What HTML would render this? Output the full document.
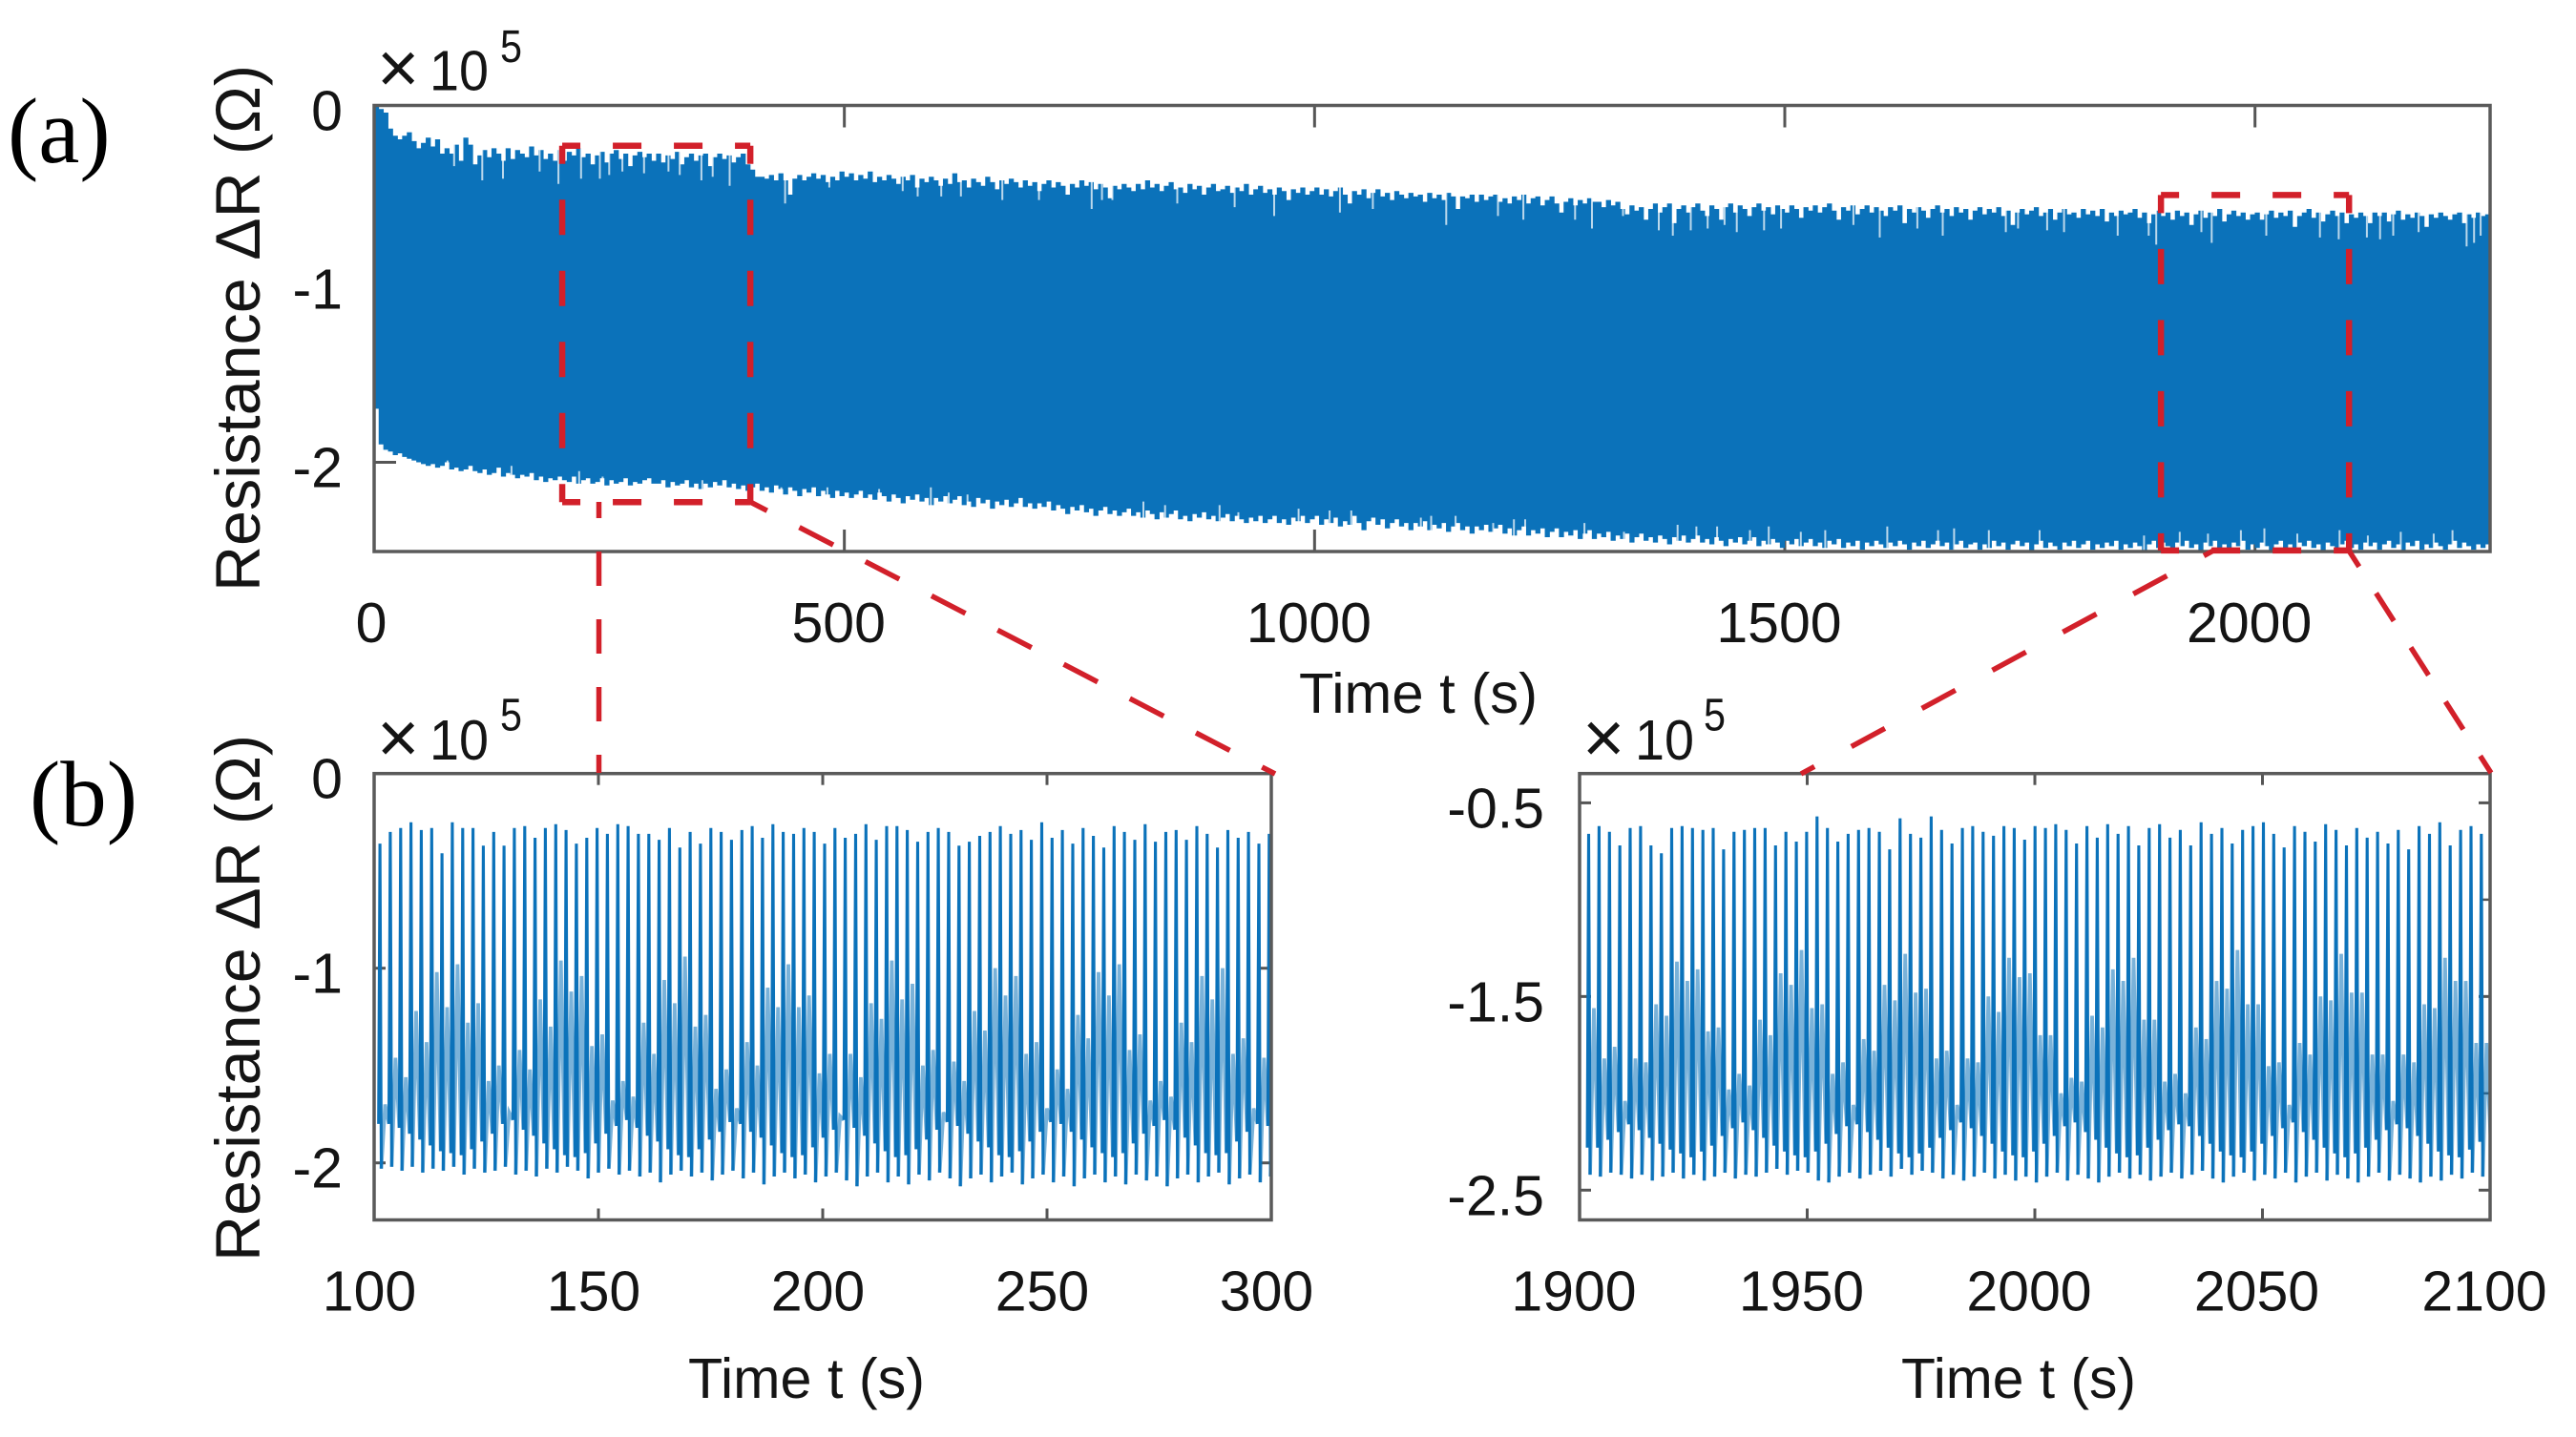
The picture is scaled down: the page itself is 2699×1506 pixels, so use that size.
<!DOCTYPE html>
<html lang="en">
<head>
<meta charset="utf-8">
<title>Resistance over time</title>
<style>
html,body{margin:0;padding:0;background:#fff;}
svg{display:block;}
text{font-family:"Liberation Sans","DejaVu Sans",sans-serif;fill:#141414;}
.serif{font-family:"Liberation Serif","DejaVu Serif",serif;fill:#000;}
.red{stroke:#d2202a;fill:none;}
</style>
</head>
<body>
<svg id="figure" xmlns="http://www.w3.org/2000/svg" width="2699" height="1506" viewBox="0 0 2699 1506">
  <rect x="0" y="0" width="2699" height="1506" fill="#fff"/>
  <defs>
    <clipPath id="clip-a"><rect x="392" y="110" width="2218" height="468"/></clipPath>
    <clipPath id="clip-b1"><rect x="392" y="811" width="941" height="468"/></clipPath>
    <clipPath id="clip-b2"><rect x="1655" y="811" width="955" height="468"/></clipPath>
  </defs>
  <g id="layer-ticks"></g>
  <g id="layer-series"></g>
  <g id="layer-frames"></g>
  <g id="layer-labels" font-size="59"></g>

  <text class="serif" x="8" y="170" font-size="97">(a)</text>
  <text class="serif" x="31" y="865" font-size="97">(b)</text>

  <text transform="translate(272,620) rotate(-90)" font-size="66" textLength="552" lengthAdjust="spacingAndGlyphs">Resistance ΔR (Ω)</text>
  <text transform="translate(272,1322) rotate(-90)" font-size="66" textLength="552" lengthAdjust="spacingAndGlyphs">Resistance ΔR (Ω)</text>

  <text x="1361" y="747" font-size="59" textLength="250" lengthAdjust="spacingAndGlyphs">Time t (s)</text>
  <text x="721" y="1465" font-size="59" textLength="248" lengthAdjust="spacingAndGlyphs">Time t (s)</text>
  <text x="1992" y="1465" font-size="59" textLength="246" lengthAdjust="spacingAndGlyphs">Time t (s)</text>

  <g>
    <text x="395" y="97" font-size="76">×</text>
    <text x="450" y="94.5" font-size="59" textLength="62" lengthAdjust="spacingAndGlyphs">10</text>
    <text x="524" y="65" font-size="48" textLength="23" lengthAdjust="spacingAndGlyphs">5</text>
  </g>
  <g>
    <text x="395" y="799" font-size="76">×</text>
    <text x="450" y="796" font-size="59" textLength="62" lengthAdjust="spacingAndGlyphs">10</text>
    <text x="524" y="765.5" font-size="48" textLength="23" lengthAdjust="spacingAndGlyphs">5</text>
  </g>
  <g>
    <text x="1658" y="799" font-size="76">×</text>
    <text x="1713" y="796" font-size="59" textLength="62" lengthAdjust="spacingAndGlyphs">10</text>
    <text x="1785" y="765.5" font-size="48" textLength="23" lengthAdjust="spacingAndGlyphs">5</text>
  </g>

  <g id="layer-zoom"></g>
  <g>
    <line class="red" x1="627.5" y1="810" x2="627.5" y2="526" stroke-width="5.5" stroke-dasharray="36 35" stroke-dashoffset="17"/>
    <line class="red" x1="786" y1="526" x2="1336" y2="811" stroke-width="5.5" stroke-dasharray="40 38" stroke-dashoffset="20"/>
    <line class="red" x1="1887" y1="811" x2="2321" y2="576" stroke-width="5.5" stroke-dasharray="40 44" stroke-dashoffset="24"/>
    <line class="red" x1="2461" y1="577" x2="2610" y2="810" stroke-width="5.5" stroke-dasharray="34.5 33" stroke-dashoffset="14.5"/>
  </g>
</svg>
<script>
/* Panel (a): envelope of the signal, one value per 5 s, units of 1e5 ohm */
const stepA = 5;
const upperA = [
0,-.02,-.04,-.13,-.17,-.19,-.17,-.15,-.2,-.24,-.21,-.18,-.23,-.19,-.27,-.24,-.27,-.22,-.31,-.18,
-.22,-.33,-.28,-.25,-.29,-.24,-.27,-.31,-.24,-.3,-.25,-.27,-.29,-.23,-.28,-.25,-.3,-.27,-.31,-.25,
-.31,-.26,-.28,-.24,-.29,-.27,-.33,-.28,-.26,-.32,-.27,-.25,-.3,-.27,-.34,-.28,-.26,-.29,-.27,-.31,
-.27,-.32,-.28,-.3,-.26,-.33,-.29,-.27,-.31,-.28,-.27,-.34,-.29,-.27,-.3,-.28,-.32,-.29,-.27,-.33,
-.36,-.4,-.4,-.41,-.39,-.42,-.38,-.42,-.5,-.41,-.39,-.42,-.4,-.38,-.41,-.39,-.43,-.4,-.42,-.37,
-.4,-.38,-.42,-.39,-.41,-.37,-.43,-.4,-.42,-.39,-.41,-.44,-.4,-.42,-.39,-.46,-.41,-.43,-.4,-.42,
-.45,-.41,-.44,-.38,-.43,-.42,-.46,-.41,-.43,-.45,-.4,-.43,-.47,-.42,-.44,-.41,-.43,-.46,-.42,-.45,
-.43,-.48,-.44,-.42,-.46,-.43,-.45,-.5,-.44,-.46,-.42,-.45,-.43,-.47,-.44,-.46,-.52,-.45,-.47,-.44,
-.46,-.48,-.44,-.47,-.42,-.46,-.44,-.48,-.45,-.43,-.47,-.46,-.49,-.44,-.47,-.45,-.5,-.46,-.44,-.48,
-.47,-.45,-.49,-.46,-.48,-.44,-.5,-.47,-.45,-.49,-.47,-.5,-.46,-.48,-.53,-.47,-.49,-.46,-.5,-.48,
-.46,-.5,-.47,-.51,-.48,-.46,-.5,-.55,-.48,-.5,-.47,-.52,-.49,-.47,-.51,-.49,-.53,-.48,-.5,-.52,
-.49,-.51,-.5,-.54,-.49,-.52,-.5,-.53,-.49,-.51,-.58,-.51,-.52,-.5,-.54,-.5,-.53,-.51,-.5,-.54,
-.52,-.55,-.51,-.53,-.5,-.55,-.52,-.51,-.56,-.53,-.51,-.55,-.6,-.54,-.52,-.56,-.53,-.55,-.52,-.54,
-.54,-.57,-.53,-.56,-.54,-.58,-.61,-.56,-.59,-.57,-.64,-.58,-.55,-.6,-.57,-.55,-.66,-.58,-.56,-.6,
-.57,-.55,-.59,-.62,-.56,-.58,-.64,-.57,-.55,-.6,-.56,-.58,-.62,-.57,-.55,-.59,-.57,-.61,-.56,-.58,
-.6,-.56,-.58,-.63,-.57,-.59,-.56,-.6,-.57,-.55,-.59,-.64,-.57,-.59,-.56,-.61,-.58,-.56,-.6,-.57,
-.59,-.62,-.57,-.59,-.56,-.66,-.58,-.6,-.57,-.59,-.63,-.58,-.56,-.6,-.58,-.62,-.57,-.6,-.58,-.64,
-.59,-.57,-.61,-.58,-.6,-.57,-.62,-.59,-.67,-.6,-.58,-.61,-.59,-.57,-.62,-.6,-.58,-.64,-.6,-.58,
-.61,-.6,-.63,-.58,-.61,-.59,-.62,-.58,-.65,-.6,-.62,-.59,-.61,-.6,-.58,-.63,-.6,-.66,-.61,-.59,
-.62,-.6,-.64,-.59,-.62,-.6,-.67,-.61,-.59,-.63,-.6,-.62,-.58,-.65,-.61,-.59,-.62,-.6,-.64,-.61,
-.6,-.64,-.61,-.59,-.63,-.6,-.62,-.59,-.68,-.62,-.6,-.58,-.63,-.6,-.65,-.61,-.59,-.62,-.6,-.66,
-.61,-.63,-.6,-.62,-.66,-.6,-.62,-.6,-.65,-.61,-.59,-.64,-.61,-.63,-.6,-.62,-.68,-.61,-.63,-.6,
-.62,-.64,-.61,-.6,-.66,-.61,-.63,-.6,-.62,-.61,-.63,-.6
];
const lowerA = [
-1.7,-1.9,-1.93,-1.94,-1.96,-1.95,-1.97,-1.98,-1.99,-2,-2.01,-2.02,-2.01,-2.03,-2.02,-2,-2.04,-2.03,-2.05,-2.04,
-2.02,-2.05,-2.06,-2.04,-2.07,-2.06,-2.03,-2.08,-2.06,-2.07,-2.09,-2.07,-2.08,-2.06,-2.1,-2.08,-2.11,-2.09,-2.1,-2.08,
-2.1,-2.11,-2.08,-2.12,-2.1,-2.09,-2.12,-2.11,-2.09,-2.13,-2.1,-2.12,-2.11,-2.09,-2.13,-2.11,-2.12,-2.1,-2.09,-2.12,
-2.12,-2.1,-2.14,-2.11,-2.13,-2.12,-2.1,-2.14,-2.12,-2.15,-2.12,-2.14,-2.11,-2.13,-2.1,-2.14,-2.12,-2.15,-2.13,-2.16,
-2.14,-2.12,-2.16,-2.14,-2.17,-2.13,-2.15,-2.18,-2.14,-2.16,-2.19,-2.15,-2.17,-2.14,-2.19,-2.16,-2.18,-2.2,-2.16,-2.19,
-2.17,-2.2,-2.18,-2.16,-2.2,-2.18,-2.21,-2.17,-2.19,-2.22,-2.18,-2.2,-2.23,-2.19,-2.21,-2.18,-2.22,-2.2,-2.24,-2.2,
-2.22,-2.19,-2.23,-2.21,-2.19,-2.24,-2.22,-2.25,-2.2,-2.23,-2.21,-2.26,-2.22,-2.24,-2.21,-2.25,-2.23,-2.2,-2.25,-2.23,
-2.26,-2.23,-2.25,-2.22,-2.27,-2.24,-2.26,-2.29,-2.25,-2.27,-2.24,-2.28,-2.26,-2.3,-2.27,-2.25,-2.29,-2.27,-2.3,-2.28,
-2.26,-2.3,-2.28,-2.31,-2.27,-2.29,-2.32,-2.28,-2.31,-2.29,-2.27,-2.32,-2.3,-2.33,-2.29,-2.31,-2.28,-2.32,-2.3,-2.33,
-2.31,-2.29,-2.33,-2.3,-2.32,-2.34,-2.31,-2.33,-2.3,-2.34,-2.32,-2.3,-2.34,-2.32,-2.35,-2.31,-2.33,-2.3,-2.34,-2.32,
-2.3,-2.35,-2.32,-2.34,-2.31,-2.36,-2.33,-2.35,-2.3,-2.34,-2.38,-2.33,-2.31,-2.35,-2.32,-2.37,-2.34,-2.32,-2.36,-2.34,
-2.38,-2.34,-2.36,-2.33,-2.38,-2.35,-2.37,-2.34,-2.39,-2.36,-2.34,-2.38,-2.36,-2.4,-2.36,-2.38,-2.35,-2.39,-2.37,-2.35,
-2.4,-2.37,-2.41,-2.38,-2.36,-2.41,-2.38,-2.4,-2.37,-2.42,-2.39,-2.37,-2.42,-2.39,-2.41,-2.38,-2.43,-2.4,-2.38,-2.43,
-2.4,-2.42,-2.39,-2.44,-2.41,-2.43,-2.4,-2.45,-2.42,-2.4,-2.44,-2.42,-2.45,-2.41,-2.43,-2.46,-2.42,-2.44,-2.41,-2.45,
-2.43,-2.41,-2.45,-2.43,-2.46,-2.42,-2.44,-2.47,-2.43,-2.45,-2.42,-2.46,-2.44,-2.42,-2.47,-2.44,-2.46,-2.43,-2.45,-2.48,
-2.44,-2.46,-2.43,-2.47,-2.45,-2.43,-2.47,-2.45,-2.48,-2.44,-2.46,-2.43,-2.48,-2.45,-2.47,-2.44,-2.49,-2.45,-2.47,-2.44,
-2.46,-2.48,-2.45,-2.47,-2.44,-2.46,-2.49,-2.45,-2.47,-2.44,-2.48,-2.46,-2.44,-2.47,-2.45,-2.49,-2.46,-2.44,-2.48,-2.46,
-2.45,-2.49,-2.46,-2.48,-2.44,-2.47,-2.45,-2.49,-2.46,-2.44,-2.47,-2.45,-2.5,-2.46,-2.44,-2.48,-2.45,-2.47,-2.49,-2.45,
-2.47,-2.44,-2.48,-2.46,-2.44,-2.49,-2.46,-2.48,-2.45,-2.47,-2.44,-2.49,-2.46,-2.48,-2.45,-2.47,-2.5,-2.46,-2.44,-2.48,
-2.45,-2.47,-2.49,-2.45,-2.47,-2.44,-2.48,-2.46,-2.5,-2.45,-2.47,-2.44,-2.49,-2.46,-2.48,-2.45,-2.47,-2.44,-2.49,-2.46,
-2.48,-2.45,-2.47,-2.5,-2.46,-2.44,-2.48,-2.46,-2.49,-2.45,-2.47,-2.44,-2.48,-2.46,-2.5,-2.45,-2.47,-2.49,-2.46,-2.44,
-2.48,-2.46,-2.49,-2.45,-2.47,-2.45,-2.49,-2.46,-2.44,-2.48,-2.46,-2.5,-2.45,-2.47,-2.44,-2.49,-2.46,-2.48,-2.45,-2.47,
-2.49,-2.46,-2.44,-2.48,-2.45,-2.47,-2.49,-2.46,-2.48,-2.46,-2.49,-2.47
];
/* Narrow pale notches in the top edge: time (s) and how far down each reaches */
const topNotchTimes = [85,115,137,176,196,220,240,250,264,287,313,325,348,360,378,437,484,562,578,603,624,668,707,763,774,785,854,915,957,1027,1062,1140,1195,1222,1277,1295,1328,1366,1381,1400,1418,1436,1449,1478,1496,1573,1601,1641,1668,1735,1748,1779,1797,1854,1887,1895,1943,1954,2012,2069,2089,2119,2133,2147,2174,2225,2233,2240];
const topNotchValues = [-.34,-.42,-.41,-.37,-.44,-.41,-.41,-.39,-.37,-.38,-.37,-.39,-.42,-.4,-.45,-.55,-.46,-.48,-.51,-.51,-.51,-.53,-.53,-.58,-.53,-.53,-.55,-.57,-.62,-.6,-.58,-.67,-.62,-.64,-.64,-.69,-.62,-.7,-.73,-.7,-.69,-.67,-.71,-.7,-.69,-.67,-.74,-.69,-.73,-.71,-.69,-.7,-.71,-.73,-.73,-.78,-.71,-.77,-.73,-.74,-.75,-.74,-.75,-.73,-.71,-.79,-.77,-.73];
/* Narrow pale notches in the bottom edge: time (s) and how far up each reaches */
const bottomNotchTimes = [78,146,218,243,349,433,466,482,537,592,611,631,818,841,899,919,983,1016,1039,1113,1124,1150,1190,1212,1224,1287,1329,1386,1406,1428,1463,1483,1517,1543,1609,1663,1680,1717,1771,1882,1920,1950,1985,2010,2045,2090,2120,2155,2190,2210];
const bottomNotchValues = [-1.99,-2.02,-2.05,-2.08,-2.1,-2.14,-2.15,-2.14,-2.15,-2.14,-2.17,-2.18,-2.22,-2.24,-2.24,-2.28,-2.26,-2.27,-2.27,-2.31,-2.3,-2.3,-2.34,-2.32,-2.32,-2.34,-2.39,-2.35,-2.36,-2.36,-2.38,-2.36,-2.39,-2.38,-2.36,-2.38,-2.37,-2.38,-2.38,-2.41,-2.39,-2.4,-2.38,-2.37,-2.4,-2.38,-2.41,-2.39,-2.4,-2.38];
const ticksAX = [0, 500, 1000, 1500, 2000];
const ticksAY = [0, -1, -2];

/* Panel (b) left: one entry per oscillation cycle, units of 1e5 ohm */
const startB1 = 101.3;
const periodB1 = 2.305;
const peaksB1 = [
-.36,-.3,-.28,-.25,-.29,-.28,-.41,-.25,-.28,-.28,
-.37,-.3,-.37,-.28,-.27,-.33,-.28,-.26,-.29,-.36,
-.33,-.28,-.31,-.26,-.27,-.31,-.31,-.34,-.28,-.38,
-.3,-.36,-.28,-.3,-.34,-.29,-.27,-.33,-.26,-.3,
-.31,-.28,-.3,-.36,-.28,-.33,-.31,-.26,-.34,-.27,
-.27,-.29,-.35,-.3,-.28,-.3,-.37,-.35,-.32,-.3,
-.27,-.31,-.29,-.34,-.25,-.33,-.29,-.36,-.28,-.32,
-.38,-.27,-.3,-.34,-.26,-.35,-.3,-.29,-.34,-.27,
-.31,-.38,-.29,-.33,-.3,-.36,-.31];
const deepsB1 = [
-2.03,-2.02,-2.04,-2.02,-2.05,-2.03,-2.04,-2.02,-2.06,-2.03,
-2.05,-2.04,-2.02,-2.06,-2.04,-2.07,-2.03,-2.05,-2.02,-2.04,
-2.08,-2.05,-2.03,-2.06,-2.04,-2.07,-2.05,-2.1,-2.06,-2.04,
-2.07,-2.05,-2.09,-2.06,-2.04,-2.08,-2.05,-2.11,-2.07,-2.05,
-2.08,-2.06,-2.1,-2.07,-2.05,-2.09,-2.12,-2.07,-2.05,-2.1,
-2.07,-2.11,-2.06,-2.09,-2.05,-2.08,-2.12,-2.08,-2.06,-2.1,
-2.07,-2.05,-2.11,-2.08,-2.06,-2.1,-2.07,-2.12,-2.08,-2.06,
-2.1,-2.07,-2.11,-2.06,-2.09,-2.07,-2.12,-2.08,-2.06,-2.1,
-2.07,-2.05,-2.11,-2.08,-2.06,-2.1,-2.07];
const secsB1 = [
-1.7,-1.46,-1.56,-1.22,-1.38,-1.02,-1.2,-.98,-1.28,-1.18,
-1.58,-1.5,-1.74,-1.42,-1.52,-1.16,-1.3,-.96,-1.12,-1.04,
-1.4,-1.34,-1.68,-1.58,-1.66,-1.28,-1.44,-1.06,-1.18,-.94,
-1.3,-1.24,-1.62,-1.52,-1.72,-1.38,-1.5,-1.1,-1.2,-.98,
-1.2,-1.14,-1.54,-1.44,-1.76,-1.44,-1.56,-1.18,-1.26,-.96,
-1.16,-1.08,-1.5,-1.42,-1.74,-1.48,-1.58,-1.22,-1.32,-1,
-1.14,-1.04,-1.44,-1.38,-1.72,-1.52,-1.62,-1.24,-1.36,-1.02,
-1.14,-.98,-1.42,-1.34,-1.68,-1.58,-1.66,-1.28,-1.38,-1.04,
-1.16,-1,-1.44,-1.36,-1.72,-1.46,-1.56];
const shallowsB1 = [
-1.8,-1.82,-1.85,-1.88,-1.91,-1.94,-1.95,-1.96,-1.93,-1.89,
-1.85,-1.8,-1.78,-1.83,-1.86,-1.9,-1.93,-1.96,-1.97,-1.95,
-1.9,-1.85,-1.81,-1.78,-1.82,-1.86,-1.89,-1.93,-1.96,-1.97,
-1.93,-1.88,-1.84,-1.79,-1.8,-1.84,-1.87,-1.91,-1.95,-1.97,
-1.96,-1.92,-1.87,-1.83,-1.78,-1.82,-1.86,-1.9,-1.94,-1.97,
-1.96,-1.93,-1.88,-1.83,-1.79,-1.81,-1.85,-1.89,-1.92,-1.96,
-1.97,-1.94,-1.89,-1.84,-1.79,-1.8,-1.84,-1.88,-1.92,-1.95,
-1.97,-1.95,-1.9,-1.85,-1.81,-1.78,-1.83,-1.87,-1.91,-1.95,
-1.96,-1.95,-1.89,-1.84,-1.8,-1.81,-1.86];
const ticksB1X = [100, 150, 200, 250, 300];
const ticksB1Y = [0, -1, -2];

/* Panel (b) right: one entry per oscillation cycle, units of 1e5 ohm */
const startB2 = 1902;
const periodB2 = 2.28;
const peaksB2 = [
-.66,-.62,-.65,-.72,-.63,-.62,-.72,-.76,-.63,-.62,
-.63,-.64,-.63,-.74,-.65,-.64,-.63,-.63,-.72,-.65,
-.7,-.65,-.57,-.63,-.7,-.66,-.64,-.63,-.65,-.74,
-.58,-.66,-.68,-.57,-.64,-.71,-.63,-.62,-.65,-.67,
-.62,-.63,-.69,-.62,-.63,-.61,-.64,-.71,-.62,-.68,
-.61,-.66,-.62,-.72,-.63,-.61,-.68,-.64,-.72,-.6,
-.66,-.63,-.71,-.64,-.62,-.6,-.66,-.73,-.62,-.65,
-.7,-.61,-.64,-.72,-.63,-.68,-.65,-.71,-.64,-.74,
-.62,-.66,-.6,-.72,-.64,-.62,-.66];
const deepsB2 = [
-2.42,-2.43,-2.41,-2.42,-2.44,-2.42,-2.45,-2.43,-2.41,-2.44,
-2.42,-2.45,-2.43,-2.41,-2.44,-2.42,-2.43,-2.41,-2.39,-2.42,
-2.4,-2.41,-2.45,-2.46,-2.43,-2.41,-2.44,-2.42,-2.4,-2.43,
-2.39,-2.42,-2.4,-2.41,-2.44,-2.42,-2.45,-2.43,-2.41,-2.44,
-2.42,-2.45,-2.43,-2.46,-2.43,-2.41,-2.45,-2.42,-2.44,-2.46,
-2.43,-2.41,-2.44,-2.42,-2.45,-2.43,-2.41,-2.44,-2.42,-2.4,
-2.44,-2.46,-2.43,-2.41,-2.45,-2.42,-2.44,-2.41,-2.46,-2.43,
-2.41,-2.45,-2.42,-2.44,-2.46,-2.43,-2.41,-2.45,-2.42,-2.44,
-2.46,-2.43,-2.45,-2.42,-2.44,-2.41,-2.43];
const secsB2 = [
-1.56,-1.82,-1.76,-2.04,-1.82,-1.84,-1.54,-1.6,-1.32,-1.42,
-1.36,-1.68,-1.66,-1.98,-1.9,-1.96,-1.62,-1.7,-1.38,-1.44,
-1.26,-1.56,-1.54,-1.9,-1.84,-2.06,-1.72,-1.78,-1.44,-1.52,
-1.28,-1.48,-1.46,-1.82,-1.78,-2.06,-1.82,-1.84,-1.5,-1.58,
-1.3,-1.4,-1.38,-1.7,-1.7,-2,-1.92,-1.94,-1.6,-1.66,
-1.36,-1.42,-1.3,-1.62,-1.62,-1.94,-1.9,-2,-1.66,-1.72,
-1.42,-1.46,-1.26,-1.54,-1.54,-1.86,-1.84,-2.06,-1.74,-1.8,
-1.5,-1.52,-1.28,-1.48,-1.48,-1.8,-1.8,-2.04,-1.8,-1.84,
-1.54,-1.56,-1.3,-1.42,-1.42,-1.74,-1.74];
const shallowsB2 = [
-2.28,-2.24,-2.2,-2.16,-2.19,-2.23,-2.26,-2.29,-2.31,-2.33,
-2.3,-2.27,-2.22,-2.18,-2.15,-2.19,-2.23,-2.27,-2.3,-2.32,
-2.33,-2.3,-2.26,-2.21,-2.17,-2.16,-2.2,-2.24,-2.28,-2.31,
-2.33,-2.31,-2.28,-2.23,-2.19,-2.15,-2.18,-2.22,-2.26,-2.3,
-2.32,-2.33,-2.3,-2.26,-2.22,-2.17,-2.15,-2.2,-2.24,-2.28,
-2.31,-2.33,-2.32,-2.28,-2.24,-2.19,-2.16,-2.17,-2.22,-2.26,
-2.3,-2.32,-2.33,-2.3,-2.26,-2.22,-2.18,-2.15,-2.2,-2.24,
-2.28,-2.31,-2.33,-2.31,-2.28,-2.24,-2.19,-2.16,-2.18,-2.22,
-2.26,-2.3,-2.32,-2.33,-2.29,-2.25,-2.21];
const ticksB2X = [1900, 1950, 2000, 2050, 2100];
const ticksB2Y = [-0.5, -1.5, -2.5];
const minorTicksB2Y = [-1, -2];

/* Zoom window ranges: time start/end and resistance top/bottom */
const zoomWindowLeft = [200, 400, -0.226, -2.223];
const zoomWindowRight = [1900, 2100, -0.502, -2.494];

const NS = 'http://www.w3.org/2000/svg';
const ticksLayer = document.getElementById('layer-ticks');
const seriesLayer = document.getElementById('layer-series');
const framesLayer = document.getElementById('layer-frames');
const labelsLayer = document.getElementById('layer-labels');
const zoomLayer = document.getElementById('layer-zoom');

function linear(d0, d1, r0, r1) {
  return function (v) { return r0 + (v - d0) * (r1 - r0) / (d1 - d0); };
}
const xA = linear(0, 2250, 392, 2609);
const yA = linear(0, -2.5, 110.5, 578);
const xB1 = linear(100, 300, 392, 1332);
const yB1 = linear(0, -2.293, 810.7, 1278.5);
const xB2 = linear(1900, 2100, 1655, 2609);
const yB2 = linear(-0.5, -2.5, 841.4, 1247.3);

function makeLine(parent, x1, y1, x2, y2, width, color) {
  const el = document.createElementNS(NS, 'line');
  el.setAttribute('x1', x1);
  el.setAttribute('y1', y1);
  el.setAttribute('x2', x2);
  el.setAttribute('y2', y2);
  el.setAttribute('stroke', color);
  el.setAttribute('stroke-width', width);
  parent.appendChild(el);
  return el;
}

function makeLabel(x, y, anchor, str) {
  const el = document.createElementNS(NS, 'text');
  el.setAttribute('x', x);
  el.setAttribute('y', y);
  el.setAttribute('text-anchor', anchor);
  el.textContent = str;
  labelsLayer.appendChild(el);
  return el;
}

function makeFrame(left, top, right, bottom) {
  const el = document.createElementNS(NS, 'rect');
  el.setAttribute('x', left);
  el.setAttribute('y', top);
  el.setAttribute('width', right - left);
  el.setAttribute('height', bottom - top);
  el.setAttribute('fill', 'none');
  el.setAttribute('stroke', '#5a5a5a');
  el.setAttribute('stroke-width', '3.5');
  framesLayer.appendChild(el);
  return el;
}

function drawTicks(xTicks, yTicks, xFn, yFn, left, top, right, bottom, len) {
  xTicks.forEach(function (t) {
    const px = xFn(t);
    const a = makeLine(ticksLayer, px, top, px, top + len, 3, '#555');
    
    
    const b = makeLine(ticksLayer, px, bottom, px, bottom - len, 3, '#555');
    
    
  });
  yTicks.forEach(function (v) {
    const py = yFn(v);
    const a = makeLine(ticksLayer, left, py, left + len, py, 3, '#555');
    
    
    const b = makeLine(ticksLayer, right, py, right - len, py, 3, '#555');
    
    
  });
}

/* Panel (a) series */
(function () {
  let d = '';
  const n = Math.min(upperA.length, lowerA.length);
  for (let i = 0; i < n; i++) {
    const t = i * stepA + stepA / 2;
    d += 'M' + xA(t).toFixed(1) + ' ' + yA(upperA[i]).toFixed(1) + 'V' + yA(lowerA[i]).toFixed(1);
  }
  const el = document.createElementNS(NS, 'path');
  el.setAttribute('d', d);
  el.setAttribute('fill', 'none');
  el.setAttribute('stroke', '#0b72ba');
  el.setAttribute('stroke-width', '5.3');
  el.setAttribute('clip-path', 'url(#clip-a)');
  
  
  seriesLayer.appendChild(el);

  let top = '';
  topNotchTimes.forEach(function (t, i) {
    top += 'M' + xA(t).toFixed(1) + ' ' + yA(0).toFixed(1) + 'V' + yA(topNotchValues[i]).toFixed(1);
  });
  const topEl = document.createElementNS(NS, 'path');
  topEl.setAttribute('d', top);
  topEl.setAttribute('fill', 'none');
  topEl.setAttribute('stroke', '#fff');
  topEl.setAttribute('stroke-opacity', '0.72');
  topEl.setAttribute('stroke-width', '2');
  topEl.setAttribute('clip-path', 'url(#clip-a)');
  
  
  seriesLayer.appendChild(topEl);

  let bottom = '';
  bottomNotchTimes.forEach(function (t, i) {
    bottom += 'M' + xA(t).toFixed(1) + ' ' + yA(-2.5).toFixed(1) + 'V' + yA(bottomNotchValues[i]).toFixed(1);
  });
  const bottomEl = document.createElementNS(NS, 'path');
  bottomEl.setAttribute('d', bottom);
  bottomEl.setAttribute('fill', 'none');
  bottomEl.setAttribute('stroke', '#fff');
  bottomEl.setAttribute('stroke-opacity', '0.72');
  bottomEl.setAttribute('stroke-width', '2');
  bottomEl.setAttribute('clip-path', 'url(#clip-a)');
  
  
  seriesLayer.appendChild(bottomEl);
})();

/* Panel (b) series */
function drawCycles(peaks, deeps, secs, shallows, start, period, xFn, yFn, clip, name) {
  let main = '';
  let minor = '';
  const n = Math.min(peaks.length, deeps.length, secs.length, shallows.length);
  for (let i = 0; i < n; i++) {
    const t = start + i * period;
    const prev = i > 0 ? shallows[i - 1] : shallows[i];
    const dt = period * 0.13;
    main += 'M' + xFn(t - dt).toFixed(1) + ' ' + yFn(prev).toFixed(1) +
      'L' + xFn(t).toFixed(1) + ' ' + yFn(peaks[i]).toFixed(1) +
      'L' + xFn(t + dt).toFixed(1) + ' ' + yFn(deeps[i]).toFixed(1);
    minor += 'M' + xFn(t + dt).toFixed(1) + ' ' + yFn(deeps[i]).toFixed(1) +
      'L' + xFn(t + period * 0.5).toFixed(1) + ' ' + yFn(secs[i]).toFixed(1) +
      'L' + xFn(t + period - dt).toFixed(1) + ' ' + yFn(shallows[i]).toFixed(1);
  }
  const lightEl = document.createElementNS(NS, 'path');
  lightEl.setAttribute('d', minor);
  lightEl.setAttribute('fill', 'none');
  lightEl.setAttribute('stroke', '#0b72ba');
  lightEl.setAttribute('stroke-opacity', '0.55');
  lightEl.setAttribute('stroke-width', '3.8');
  lightEl.setAttribute('clip-path', 'url(#' + clip + ')');
  
  
  seriesLayer.appendChild(lightEl);
  const mainEl = document.createElementNS(NS, 'path');
  mainEl.setAttribute('d', main);
  mainEl.setAttribute('fill', 'none');
  mainEl.setAttribute('stroke', '#0b72ba');
  mainEl.setAttribute('stroke-width', '3.1');
  mainEl.setAttribute('clip-path', 'url(#' + clip + ')');
  
  
  seriesLayer.appendChild(mainEl);
}
drawCycles(peaksB1, deepsB1, secsB1, shallowsB1, startB1, periodB1, xB1, yB1, 'clip-b1', 'series-early-window');
drawCycles(peaksB2, deepsB2, secsB2, shallowsB2, startB2, periodB2, xB2, yB2, 'clip-b2', 'series-late-window');

/* Ticks */
drawTicks(ticksAX.slice(1), ticksAY.slice(1), xA, yA, 392, 110.5, 2609, 578, 23);
drawTicks(ticksB1X.slice(1, -1), ticksB1Y.slice(1), xB1, yB1, 392, 810.7, 1332, 1278.5, 12);
drawTicks(ticksB2X.slice(1, -1), ticksB2Y, xB2, yB2, 1655, 810.7, 2609, 1278.5, 12);
minorTicksB2Y.forEach(function (v) {
  const m = makeLine(ticksLayer, 2609, yB2(v), 2600, yB2(v), 2.5, '#555');
  
  
});

/* Frames */
const frameA = makeFrame(392, 110.5, 2609, 578);


const frameB1 = makeFrame(392, 810.7, 1332, 1278.5);


const frameB2 = makeFrame(1655, 810.7, 2609, 1278.5);



/* Tick labels */
ticksAX.forEach(function (t) {
  const el = makeLabel(xA(t) - (t === 0 ? 3 : 6), 673, 'middle', String(t));
  
  
});
ticksAY.forEach(function (v) {
  const el = makeLabel(359, yA(v) + 26, 'end', String(v));
  
  
});
ticksB1X.forEach(function (t) {
  const el = makeLabel(xB1(t) - 5, 1373.5, 'middle', String(t));
  
  
});
ticksB1Y.forEach(function (v) {
  const el = makeLabel(359, yB1(v) + 26, 'end', String(v));
  
  
});
ticksB2X.forEach(function (t) {
  const el = makeLabel(xB2(t) - 6, 1373.5, 'middle', String(t));
  
  
});
ticksB2Y.forEach(function (v) {
  const el = makeLabel(1618, yB2(v) + 26, 'end', v.toFixed(1));
  
  
});

/* Zoom windows */
function drawZoomWindow(range, name) {
  const l = xA(range[0]);
  const r = xA(range[1]);
  const t = yA(range[2]);
  const b = yA(range[3]);
  const edges = [[l, t, r, t, '30 34', '11'], [l, b, r, b, '30 34', '11'], [l, t, l, b, '37 37.5', '18'], [r, t, r, b, '37 37.5', '18']];
  edges.forEach(function (e) {
    const el = makeLine(zoomLayer, e[0], e[1], e[2], e[3], 6.5, '#d2202a');
    el.setAttribute('stroke-dasharray', e[4]);
    el.setAttribute('stroke-dashoffset', e[5]);
    
    
  });
}
drawZoomWindow(zoomWindowLeft, 'zoom-window-early');
drawZoomWindow(zoomWindowRight, 'zoom-window-late');
</script>
</body>
</html>
